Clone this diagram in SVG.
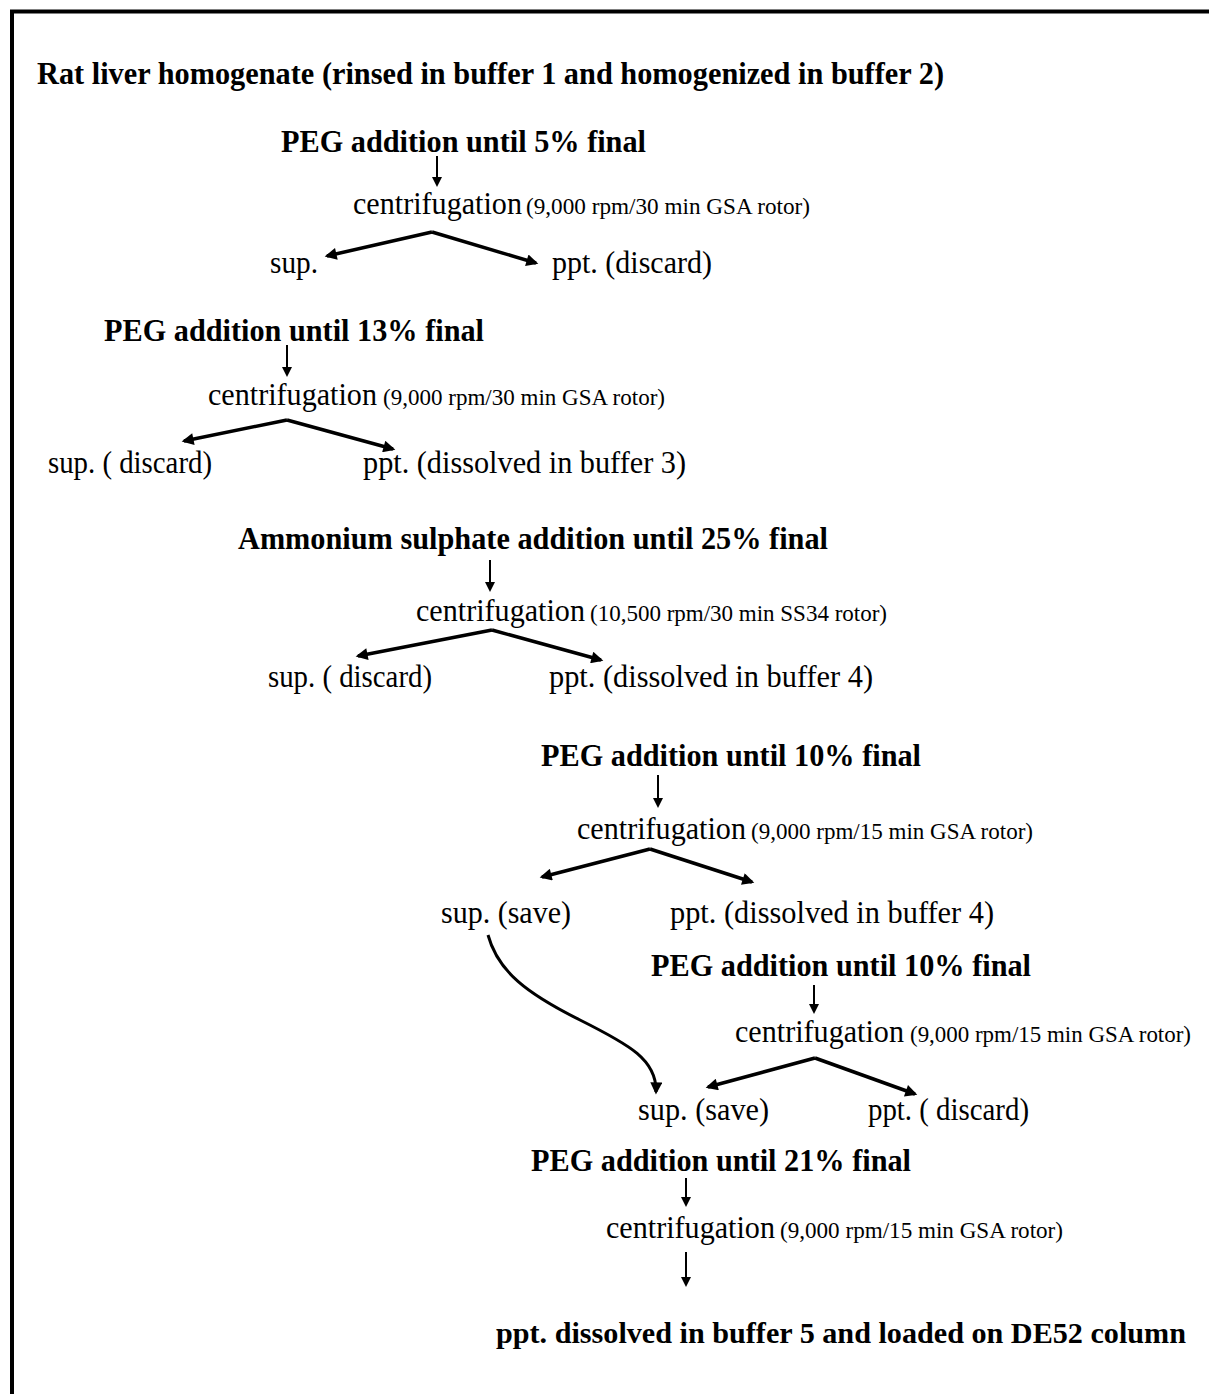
<svg xmlns="http://www.w3.org/2000/svg" width="1209" height="1394" viewBox="0 0 1209 1394">
<style>
text{font-family:"Liberation Serif","Times New Roman",serif;fill:#000}
.b{font-weight:bold;font-size:32px}
.r{font-size:31px}
.s{font-size:23px}
.v{stroke:#000;stroke-width:2;fill:none}
.br{stroke:#000;stroke-width:3.5;fill:none}
</style>
<defs>
<marker id="hs" viewBox="0 0 10 10" refX="8" refY="5" markerWidth="13" markerHeight="10" markerUnits="userSpaceOnUse" orient="auto"><path d="M0,0 L10,5 L0,10 z" fill="#000"/></marker>
<marker id="hb" viewBox="0 0 10 10" refX="8" refY="5" markerWidth="15" markerHeight="12" markerUnits="userSpaceOnUse" orient="auto"><path d="M0,0 L10,5 L0,10 z" fill="#000"/></marker>
</defs>
<rect width="1209" height="1394" fill="#fff"/>
<path d="M12,1394 V11.5 H1209" stroke="#000" stroke-width="4" fill="none"/>

<g id="connectors">
<line class="v" x1="437" y1="156" x2="437" y2="185" marker-end="url(#hs)"/>
<path class="br" d="M432,232 L327,256" marker-end="url(#hb)"/>
<path class="br" d="M432,232 L536,263" marker-end="url(#hb)"/>

<line class="v" x1="287" y1="345" x2="287" y2="375" marker-end="url(#hs)"/>
<path class="br" d="M287,420 L184,441" marker-end="url(#hb)"/>
<path class="br" d="M287,420 L393,449" marker-end="url(#hb)"/>

<line class="v" x1="490" y1="560" x2="490" y2="590" marker-end="url(#hs)"/>
<path class="br" d="M492,630 L358,656" marker-end="url(#hb)"/>
<path class="br" d="M492,630 L601,660" marker-end="url(#hb)"/>

<line class="v" x1="658" y1="775" x2="658" y2="806" marker-end="url(#hs)"/>
<path class="br" d="M650,849 L542,877" marker-end="url(#hb)"/>
<path class="br" d="M650,849 L752,882" marker-end="url(#hb)"/>

<line class="v" x1="814" y1="985" x2="814" y2="1012" marker-end="url(#hs)"/>
<path class="br" d="M815,1058 L708,1087" marker-end="url(#hb)"/>
<path class="br" d="M815,1058 L915,1094" marker-end="url(#hb)"/>

<path class="br" style="stroke-width:3" d="M488,935 C498,972 528,994 580,1020 C630,1045 657,1060 656,1092" marker-end="url(#hb)"/>

<line class="v" x1="686" y1="1178" x2="686" y2="1205" marker-end="url(#hs)"/>
<line class="v" x1="686" y1="1252" x2="686" y2="1285" marker-end="url(#hs)"/>
</g>

<g id="n-title"><text class="b" x="37" y="84" textLength="907" lengthAdjust="spacingAndGlyphs">Rat liver homogenate (rinsed in buffer 1  and homogenized in buffer 2)</text></g>

<g id="n-peg5"><text class="b" x="281" y="152" textLength="365" lengthAdjust="spacingAndGlyphs">PEG addition until 5% final</text></g>
<g id="n-cent1"><text class="r" x="353" y="214" textLength="169" lengthAdjust="spacingAndGlyphs">centrifugation</text><text class="s" x="526" y="214" textLength="284" lengthAdjust="spacingAndGlyphs">(9,000 rpm/30 min GSA rotor)</text></g>
<g id="n-sup1"><text class="r" x="270" y="273" textLength="48" lengthAdjust="spacingAndGlyphs">sup.</text></g>
<g id="n-ppt1"><text class="r" x="552" y="273" textLength="160" lengthAdjust="spacingAndGlyphs">ppt. (discard)</text></g>

<g id="n-peg13"><text class="b" x="104" y="341" textLength="380" lengthAdjust="spacingAndGlyphs">PEG addition until 13% final</text></g>
<g id="n-cent2"><text class="r" x="208" y="405" textLength="169" lengthAdjust="spacingAndGlyphs">centrifugation</text><text class="s" x="383" y="405" textLength="282" lengthAdjust="spacingAndGlyphs">(9,000 rpm/30 min GSA rotor)</text></g>
<g id="n-sup2"><text class="r" x="48" y="473" textLength="164" lengthAdjust="spacingAndGlyphs">sup. ( discard)</text></g>
<g id="n-ppt2"><text class="r" x="363" y="473" textLength="323" lengthAdjust="spacingAndGlyphs">ppt. (dissolved in buffer 3)</text></g>

<g id="n-amm"><text class="b" x="238" y="549" textLength="590" lengthAdjust="spacingAndGlyphs">Ammonium sulphate addition until 25% final</text></g>
<g id="n-cent3"><text class="r" x="416" y="621" textLength="169" lengthAdjust="spacingAndGlyphs">centrifugation</text><text class="s" x="590" y="621" textLength="297" lengthAdjust="spacingAndGlyphs">(10,500 rpm/30 min SS34 rotor)</text></g>
<g id="n-sup3"><text class="r" x="268" y="687" textLength="164" lengthAdjust="spacingAndGlyphs">sup. ( discard)</text></g>
<g id="n-ppt3"><text class="r" x="549" y="687" textLength="324" lengthAdjust="spacingAndGlyphs">ppt. (dissolved in buffer 4)</text></g>

<g id="n-peg10a"><text class="b" x="541" y="766" textLength="380" lengthAdjust="spacingAndGlyphs">PEG addition until 10% final</text></g>
<g id="n-cent4"><text class="r" x="577" y="839" textLength="169" lengthAdjust="spacingAndGlyphs">centrifugation</text><text class="s" x="751" y="839" textLength="282" lengthAdjust="spacingAndGlyphs">(9,000 rpm/15 min GSA rotor)</text></g>
<g id="n-sup4"><text class="r" x="441" y="923" textLength="130" lengthAdjust="spacingAndGlyphs">sup. (save)</text></g>
<g id="n-ppt4"><text class="r" x="670" y="923" textLength="324" lengthAdjust="spacingAndGlyphs">ppt. (dissolved in buffer 4)</text></g>

<g id="n-peg10b"><text class="b" x="651" y="976" textLength="380" lengthAdjust="spacingAndGlyphs">PEG addition until 10% final</text></g>
<g id="n-cent5"><text class="r" x="735" y="1042" textLength="169" lengthAdjust="spacingAndGlyphs">centrifugation</text><text class="s" x="910" y="1042" textLength="281" lengthAdjust="spacingAndGlyphs">(9,000 rpm/15 min GSA rotor)</text></g>
<g id="n-sup5"><text class="r" x="638" y="1120" textLength="131" lengthAdjust="spacingAndGlyphs">sup. (save)</text></g>
<g id="n-ppt5"><text class="r" x="868" y="1120" textLength="161" lengthAdjust="spacingAndGlyphs">ppt. ( discard)</text></g>

<g id="n-peg21"><text class="b" x="531" y="1171" textLength="380" lengthAdjust="spacingAndGlyphs">PEG addition until 21% final</text></g>
<g id="n-cent6"><text class="r" x="606" y="1238" textLength="169" lengthAdjust="spacingAndGlyphs">centrifugation</text><text class="s" x="780" y="1238" textLength="283" lengthAdjust="spacingAndGlyphs">(9,000 rpm/15 min GSA rotor)</text></g>
<g id="n-final"><text class="b" style="font-size:29.5px" x="496" y="1343" textLength="690" lengthAdjust="spacingAndGlyphs">ppt. dissolved in buffer 5 and loaded on DE52 column</text></g>
</svg>
